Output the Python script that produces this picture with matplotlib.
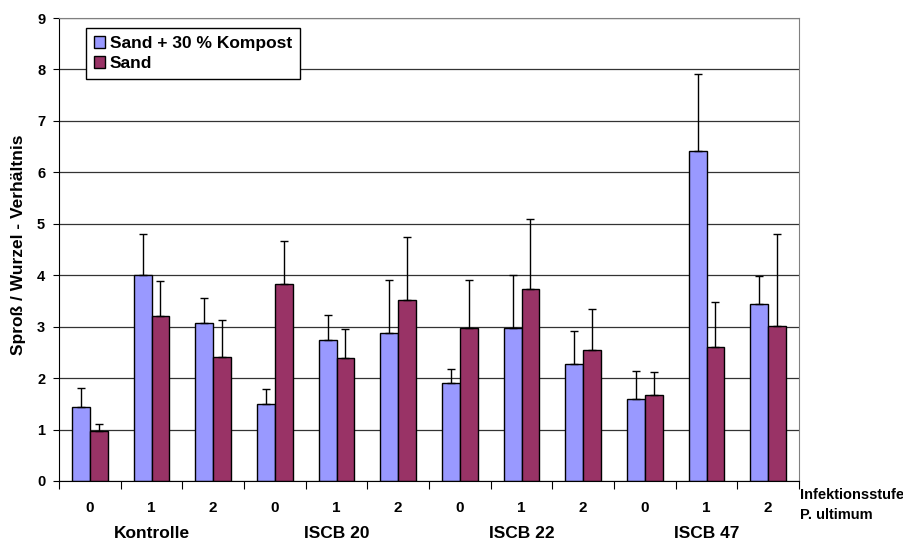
import numpy as np
import matplotlib
matplotlib.use("Agg")
import matplotlib.pyplot as plt

plt.rcParams['font.family'] = ['Liberation Sans', 'DejaVu Sans']
plt.rcParams['font.weight'] = 'bold'

# data
groups = ['Kontrolle', 'ISCB 20', 'ISCB 22', 'ISCB 47']
levels = ['0', '1', '2']
kompost = [1.44, 4.01, 3.08, 1.50, 2.74, 2.87, 1.91, 2.98, 2.28, 1.60, 6.42, 3.44]
kompost_top = [1.80, 4.81, 3.56, 1.78, 3.23, 3.91, 2.18, 4.00, 2.92, 2.14, 7.91, 3.99]
sand = [0.98, 3.20, 2.42, 3.82, 2.39, 3.51, 2.97, 3.73, 2.55, 1.68, 2.61, 3.02]
sand_top = [1.11, 3.88, 3.12, 4.67, 2.95, 4.75, 3.91, 5.09, 3.34, 2.12, 3.47, 4.81]

kompost = np.array(kompost)
sand = np.array(sand)
err_k = np.array(kompost_top) - kompost
err_s = np.array(sand_top) - sand

n = len(kompost)
x = np.arange(n)
w = 0.29

fig = plt.figure(figsize=(9.04, 5.47), dpi=100)
ax = fig.add_axes([0.0653, 0.1207, 0.8186, 0.8463])

ax.set_axisbelow(True)
ax.yaxis.grid(True, color='#333333', linewidth=0.9)

ek = dict(ecolor='black', elinewidth=1, capsize=3, capthick=1)
ax.bar(x - w / 2, kompost, w, color='#9999FF', edgecolor='black', linewidth=1,
       yerr=[np.zeros(n), err_k], error_kw=ek, label='Sand + 30 % Kompost')
ax.bar(x + w / 2, sand, w, color='#993366', edgecolor='black', linewidth=1,
       yerr=[np.zeros(n), err_s], error_kw=ek, label='Sand')

ax.set_xlim(-0.5, n - 0.5)
ax.set_ylim(0, 9)
ax.set_yticks(range(10))
ax.tick_params(axis='y', labelsize=10.5, length=4, direction='out', pad=6)

# ticks between categories, labels at centers
ax.set_xticks(np.arange(-0.5, n, 1.0))
ax.set_xticklabels([])
ax.tick_params(axis='x', length=6, direction='out')
for i in range(n):
    ax.text(i, -0.525, levels[i % 3], ha='center', va='center', fontsize=11,
            fontweight='bold', clip_on=False)
for g, name in enumerate(groups):
    ax.text(g * 3 + 1, -1.03, name, ha='center', va='center', fontsize=12.5,
            fontweight='bold', clip_on=False)

ax.text(1.001, -0.030, 'Infektionsstufe', transform=ax.transAxes, ha='left',
        va='center', fontsize=10.5, fontweight='bold', clip_on=False)
ax.text(1.001, -0.0745, 'P. ultimum', transform=ax.transAxes, ha='left',
        va='center', fontsize=10.5, fontweight='bold', clip_on=False)

ax.set_ylabel('Sproß / Wurzel - Verhältnis', fontsize=12.5, fontweight='bold', labelpad=8)
ax.yaxis.label.set_y(0.51)

for s in ['top', 'right']:
    ax.spines[s].set_color('#808080')
ax.spines['left'].set_color('black')
ax.spines['bottom'].set_color('black')

leg = ax.legend(loc='upper left', bbox_to_anchor=(0.0365, 0.978), fontsize=12.5,
                frameon=True, fancybox=False, edgecolor='black', framealpha=1,
                handlelength=0.63, handleheight=0.63, handletextpad=0.3,
                borderpad=0.45, labelspacing=0.3, borderaxespad=0)
leg.get_frame().set_linewidth(1)
for t in leg.get_texts():
    t.set_fontweight('bold')

fig.savefig('out.png', dpi=100)
